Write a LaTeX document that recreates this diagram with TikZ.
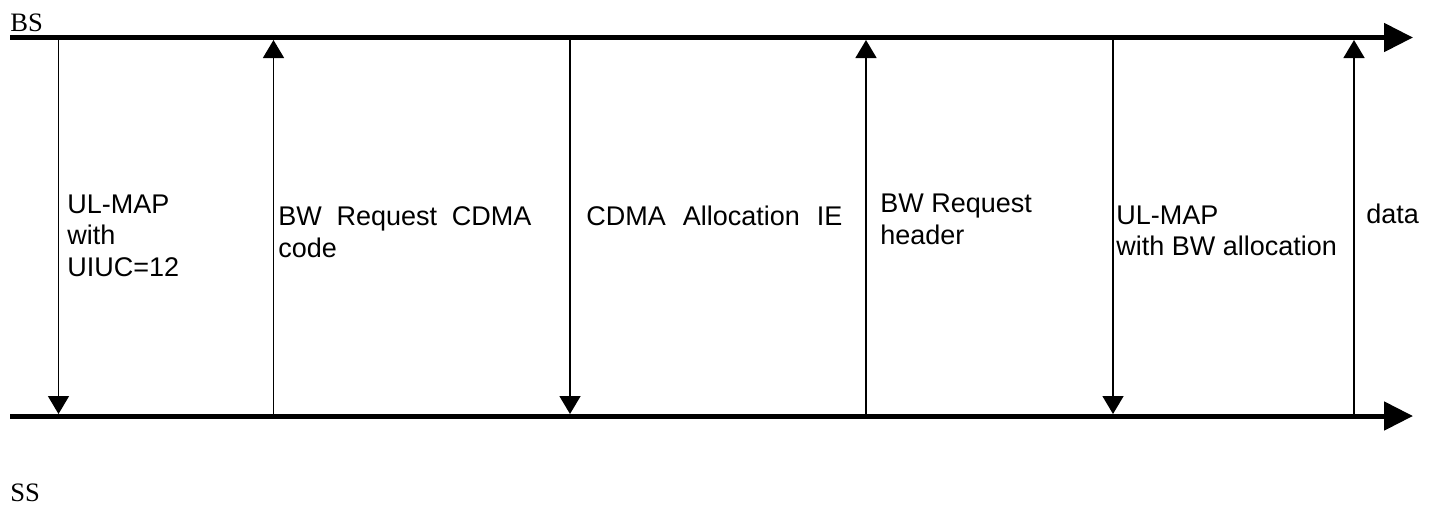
\documentclass[tikz,border=0pt]{standalone}
\usepackage{fontspec}
\setmainfont{Liberation Sans}
\newfontfamily\serifname{Liberation Serif}
\usetikzlibrary{arrows.meta}
\tikzset{
  axisline/.style={line width=2.5pt, -{Triangle[length=14.5pt,width=14pt]}},
  msg/.style={line width=0.75pt, -{Triangle[length=9pt,width=10.5pt]}},
  lbl/.style={anchor=base west, inner sep=0pt, align=left,
    font=\fontsize{13.5pt}{15.75pt}\selectfont},
  side/.style={anchor=base west, inner sep=0pt,
    font=\serifname\fontsize{13.3pt}{15.75pt}\selectfont}
}
\begin{document}
\begin{tikzpicture}[x=0.5pt,y=-0.5pt]
\useasboundingbox (0,0) rectangle (1439,505);
% axes
\coordinate (bsL) at (10,37.5);
\coordinate (bsR) at (1413,37.5);
\coordinate (ssL) at (10,416);
\coordinate (ssR) at (1413,416);
\draw[axisline] (bsL) -- (bsR);
\draw[axisline] (ssL) -- (ssR);
\node[side] (bs) at (10,31.7) {BS};
\node[side] (ss) at (10,501.7) {SS};
% message endpoints
\foreach \i/\x in {1/58.5,2/273.5,3/570,4/866,5/1113,6/1354}{
  \coordinate (t\i) at (\x,40);
  \coordinate (b\i) at (\x,414);
}
\draw[msg] (t1) -- (b1);
\draw[msg] (b2) -- (t2);
\draw[msg] (t3) -- (b3);
\draw[msg] (b4) -- (t4);
\draw[msg] (t5) -- (b5);
\draw[msg] (b6) -- (t6);
% labels (base anchor = baseline of the last line)
\node[lbl] (l1) at (67,276) {UL-MAP\\with\\UIUC=12};
\node[lbl] (l2) at (278,257) {\makebox[126.5pt][s]{BW Request CDMA}\\code};
\node[lbl] (l3) at (586,225.7) {\makebox[128pt][s]{CDMA Allocation IE}};
\node[lbl] (l4) at (880,244) {BW Request\\header};
\node[lbl] (l5) at (1116,255.5) {UL-MAP\\with BW allocation};
\node[lbl] (l6) at (1366,223.3) {data};
\end{tikzpicture}
\end{document}
